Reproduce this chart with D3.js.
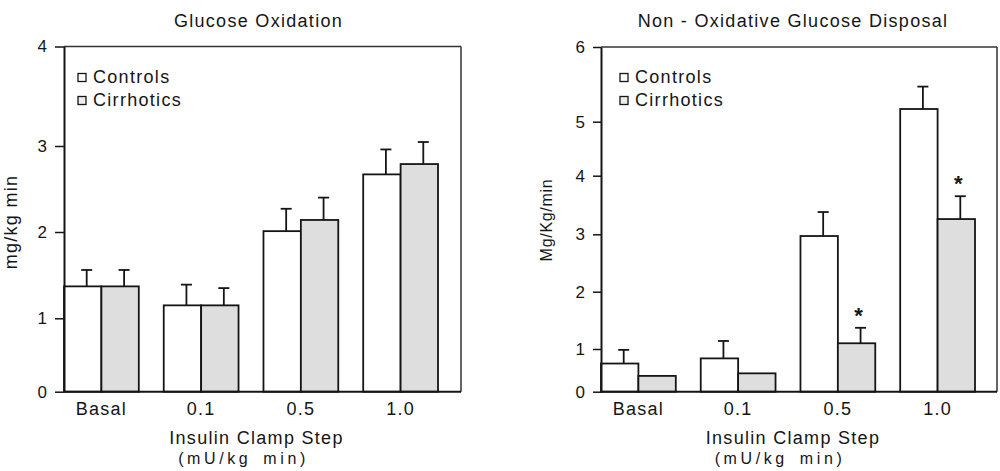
<!DOCTYPE html>
<html><head><meta charset="utf-8">
<script src="https://cdn.jsdelivr.net/npm/d3@7"></script>
<style>
html,body{margin:0;padding:0;background:#fff;}
svg{display:block;font-family:"Liberation Sans",Arial,Helvetica,sans-serif;}
</style></head><body>
<svg id="c" width="1000" height="471"></svg>
<script>
// ---------- data ----------
const categories = ["Basal", "0.1", "0.5", "1.0"];
const seriesNames = ["Controls", "Cirrhotics"];

// Glucose Oxidation (mg/kg min)
const oxTicks = [0, 1, 2, 3, 4];
const oxControls = [1.37, 1.15, 2.01, 2.67];
const oxControlsSem = [0.19, 0.24, 0.26, 0.29];
const oxCirrhotics = [1.37, 1.15, 2.14, 2.79];
const oxCirrhoticsSem = [0.19, 0.20, 0.26, 0.25];
const oxSignificant = [false, false, false, false];

// Non-Oxidative Glucose Disposal (Mg/Kg/min)
const noxTicks = [0, 1, 2, 3, 4, 5, 6];
const noxControls = [0.66, 0.78, 2.97, 5.17];
const noxControlsSem = [0.32, 0.36, 0.41, 0.30];
const noxCirrhotics = [0.37, 0.43, 1.10, 3.26];
const noxCirrhoticsSem = [0, 0, 0.27, 0.39];
const noxSignificant = [false, false, true, true];

// ---------- drawing ----------
const svg = d3.select("#c");
const INK = "#151515";
const GRAY = "#dedede";

function drawPanel(cfg) {
  const g = svg.append("g");
  const f = cfg.frame;
  // scanned axis: tick positions follow the printed figure
  const y = d3.scaleLinear().domain(cfg.ticks).range(cfg.tickPx);
  const x = d3.scaleBand().domain(categories).range(cfg.bandRange)
    .paddingInner(0.25).paddingOuter(0);
  const bw = x.bandwidth() / 2;
  const yTop = y(cfg.ticks[cfg.ticks.length - 1]);

  // title
  g.append("text").attr("x", (f.x0 + f.x1) / 2 + cfg.titleDx).attr("y", 27)
    .attr("text-anchor", "middle").attr("font-size", 18)
    .attr("letter-spacing", 1.3).attr("fill", INK).text(cfg.title);

  // bars
  const series = [
    { vals: cfg.controls, sem: cfg.controlsSem, fill: "#ffffff", off: 0 },
    { vals: cfg.cirrhotics, sem: cfg.cirrhoticsSem, fill: GRAY, off: 1 }
  ];
  series.forEach(s => {
    g.selectAll(null).data(categories).enter().append("rect")
      .attr("x", c => x(c) + s.off * bw)
      .attr("y", (c, i) => y(s.vals[i]))
      .attr("width", bw)
      .attr("height", (c, i) => y(0) - y(s.vals[i]))
      .attr("fill", s.fill).attr("stroke", INK).attr("stroke-width", 1.8);
    // error bars (upper only)
    categories.forEach((c, i) => {
      if (!s.sem[i]) return;
      const cx = x(c) + s.off * bw + bw / 2 + 4;
      const yt = y(s.vals[i] + s.sem[i]);
      g.append("line").attr("x1", cx).attr("x2", cx)
        .attr("y1", y(s.vals[i])).attr("y2", yt)
        .attr("stroke", INK).attr("stroke-width", 1.8);
      g.append("line").attr("x1", cx - 5.5).attr("x2", cx + 5.5)
        .attr("y1", yt).attr("y2", yt)
        .attr("stroke", INK).attr("stroke-width", 1.8);
    });
  });

  // significance asterisks (cirrhotics)
  categories.forEach((c, i) => {
    if (!cfg.sig[i]) return;
    const cx = x(c) + bw + bw / 2 + 2;
    const yt = y(cfg.cirrhotics[i] + cfg.cirrhoticsSem[i]);
    g.append("text").attr("x", cx).attr("y", yt - 5)
      .attr("text-anchor", "middle").attr("font-size", 22)
      .attr("font-weight", "bold").attr("fill", INK).text("*");
  });

  // frame: top, right, bottom
  g.append("line").attr("x1", f.x0).attr("x2", f.x1).attr("y1", yTop).attr("y2", yTop)
    .attr("stroke", "#333").attr("stroke-width", 1.5);
  g.append("line").attr("x1", f.x1).attr("x2", f.x1).attr("y1", yTop).attr("y2", y(0))
    .attr("stroke", "#333").attr("stroke-width", 1.5);
  g.append("line").attr("x1", f.x0).attr("x2", f.x1).attr("y1", y(0)).attr("y2", y(0))
    .attr("stroke", INK).attr("stroke-width", 2);

  // y axis
  const ya = g.append("g").attr("transform", `translate(${f.x0},0)`)
    .call(d3.axisLeft(y).tickValues(cfg.ticks).tickFormat(d3.format("d"))
      .tickSize(cfg.tickSize).tickSizeOuter(0).tickPadding(8));
  ya.select(".domain").attr("stroke", INK).attr("stroke-width", 2);
  ya.selectAll(".tick line").attr("stroke", INK).attr("stroke-width", 1.5);
  ya.selectAll(".tick text").attr("font-size", 17).attr("fill", INK)
    .attr("font-family", "Liberation Sans, Arial, sans-serif");

  // x axis labels
  const xa = g.append("g").attr("transform", `translate(0,${y(0)})`)
    .call(d3.axisBottom(x).tickSize(0).tickPadding(11));
  xa.select(".domain").remove();
  xa.selectAll(".tick text").attr("font-size", 18).attr("letter-spacing", 1.3)
    .attr("fill", INK).attr("font-family", "Liberation Sans, Arial, sans-serif");

  // x title
  const cxm = (f.x0 + f.x1) / 2;
  g.append("text").attr("x", cxm - 6).attr("y", 444)
    .attr("text-anchor", "middle").attr("font-size", 18)
    .attr("letter-spacing", 1.3).attr("fill", INK).text("Insulin Clamp Step");
  g.append("text").attr("x", cxm - 19).attr("y", 464)
    .attr("text-anchor", "middle").attr("font-size", 16)
    .attr("letter-spacing", 3.6).attr("word-spacing", 4).attr("fill", INK).text("(mU/kg min)");

  // y title
  g.append("text")
    .attr("transform", `translate(${cfg.yTitleX},${cfg.yTitleY}) rotate(-90)`)
    .attr("text-anchor", "middle").attr("font-size", cfg.yTitleSize)
    .attr("letter-spacing", cfg.yTitleSpacing).attr("fill", INK).text(cfg.yTitle);

  // legend
  const lx = f.x0 + cfg.legendDx;
  seriesNames.forEach((nm, i) => {
    const by = 83 + i * 23;
    g.append("rect").attr("x", lx - 4).attr("y", by - 9.5).attr("width", 8).attr("height", 8)
      .attr("fill", i === 0 ? "#fff" : "#ececec").attr("stroke", INK).attr("stroke-width", 1.3);
    g.append("text").attr("x", lx + 11).attr("y", by)
      .attr("font-size", 18).attr("letter-spacing", 1.3).attr("fill", INK).text(nm);
  });
}

drawPanel({
  title: "Glucose Oxidation", titleDx: -4,
  frame: { x0: 64, x1: 461 },
  ticks: oxTicks, tickPx: [391.7, 318.3, 232, 146, 46.5], tickSize: 9,
  bandRange: [64, 438],
  controls: oxControls, controlsSem: oxControlsSem,
  cirrhotics: oxCirrhotics, cirrhoticsSem: oxCirrhoticsSem, sig: oxSignificant,
  yTitle: "mg/kg min", yTitleX: 17, yTitleY: 222, yTitleSize: 18, yTitleSpacing: 1.3,
  legendDx: 18
});

drawPanel({
  title: "Non - Oxidative Glucose Disposal", titleDx: -6,
  frame: { x0: 601, x1: 997 },
  ticks: noxTicks, tickPx: [391.7, 349, 291.7, 234.3, 175.7, 121.7, 47], tickSize: 8,
  bandRange: [601, 975],
  controls: noxControls, controlsSem: noxControlsSem,
  cirrhotics: noxCirrhotics, cirrhoticsSem: noxCirrhoticsSem, sig: noxSignificant,
  yTitle: "Mg/Kg/min", yTitleX: 552, yTitleY: 220, yTitleSize: 16, yTitleSpacing: 0.7,
  legendDx: 23
});
</script>
</body></html>
